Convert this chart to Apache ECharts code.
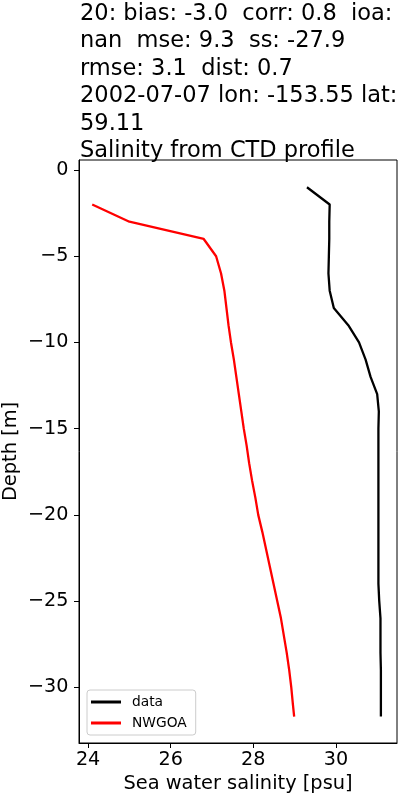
<!DOCTYPE html>
<html>
<head>
<meta charset="utf-8">
<script src="https://cdn.jsdelivr.net/npm/echarts@6/dist/echarts.min.js"></script>
<style>
html,body{margin:0;padding:0;background:#fff;}
#chart{width:400px;height:800px;}
</style>
</head>
<body>
<div id="chart"></div>
<script>
// observed CTD profile ("data")
const dataDepth = [-1, -2, -3, -4, -5, -6, -7, -8, -9, -10, -11, -12, -13, -14, -15, -16, -17, -18, -19, -20, -21, -22, -23, -24, -25, -26, -27, -28, -29, -30, -31, -31.7];
const dataSalinity = [29.3, 29.85, 29.84, 29.84, 29.83, 29.82, 29.85, 29.95, 30.3, 30.56, 30.72, 30.84, 31.0, 31.04, 31.03, 31.03, 31.03, 31.03, 31.03, 31.03, 31.03, 31.03, 31.03, 31.03, 31.05, 31.08, 31.08, 31.08, 31.09, 31.09, 31.09, 31.09];
// model profile ("NWGOA")
const modelDepth = [-2, -3, -4, -5, -6, -7, -8, -9, -10, -11, -12, -13, -14, -15, -16, -17, -18, -19, -20, -21, -22, -23, -24, -25, -26, -27, -28, -29, -30, -31, -31.7];
const modelSalinity = [24.1, 25.0, 26.8, 27.1, 27.22, 27.30, 27.35, 27.40, 27.46, 27.53, 27.59, 27.65, 27.71, 27.77, 27.84, 27.90, 27.97, 28.05, 28.12, 28.22, 28.31, 28.40, 28.49, 28.58, 28.67, 28.74, 28.81, 28.87, 28.92, 28.96, 28.99];
// axis tick labels
const xTicks = [24, 26, 28, 30];
const yTicks = [0, -5, -10, -15, -20, -25, -30];
const titleLines = [
  '20: bias: -3.0  corr: 0.8  ioa:',
  'nan  mse: 9.3  ss: -27.9',
  'rmse: 3.1  dist: 0.7',
  '2002-07-07 lon: -153.55 lat:',
  '59.11',
  'Salinity from CTD profile'
];

const FONT = 'DejaVu Sans';
const minus = v => String(v).replace('-', '\u2212');
const pairs = (xs, ys) => xs.map((x, i) => [x, ys[i]]);

const chart = echarts.init(document.getElementById('chart'), null, {renderer: 'canvas'});
chart.setOption({
  animation: false,
  backgroundColor: '#fff',
  title: {
    text: titleLines.join('\n'),
    left: 80,
    top: 0,
    padding: 0,
    textStyle: {fontFamily: FONT, fontSize: 22.5, fontWeight: 'normal', color: '#000', lineHeight: 27.5}
  },
  grid: {
    left: 79, right: 3, top: 160, bottom: 57,
    show: true, borderColor: '#000', borderWidth: 1, backgroundColor: 'transparent',
    containLabel: false,
    outerBoundsMode: 'none'
  },
  legend: {
    orient: 'vertical',
    left: 87, top: 690,
    padding: [4, 9, 4, 4],
    backgroundColor: '#fff',
    borderColor: '#cccccc', borderWidth: 1, borderRadius: 3,
    itemWidth: 30, itemHeight: 3, itemGap: 5,
    icon: 'rect',
    textStyle: {fontFamily: FONT, fontSize: 13.8, color: '#000', lineHeight: 16, padding: [0, 0, 0, 6]},
    data: ['data', 'NWGOA']
  },
  xAxis: {
    type: 'value',
    min: 23.78, max: 31.48,
    name: 'Sea water salinity [psu]',
    nameLocation: 'middle',
    nameGap: 31,
    nameMoveOverlap: false,
    nameTextStyle: {fontFamily: FONT, fontSize: 19.4, color: '#000'},
    axisLine: {show: true, onZero: false, lineStyle: {color: '#000', width: 1}},
    axisTick: {show: true, inside: false, length: 5, lineStyle: {color: '#000'}, customValues: xTicks},
    axisLabel: {fontFamily: FONT, fontSize: 19.2, color: '#000', margin: 8, customValues: xTicks, formatter: v => minus(v)},
    splitLine: {show: false}
  },
  yAxis: {
    type: 'value',
    min: -33.23, max: 0.58,
    name: 'Depth [m]',
    nameLocation: 'middle',
    nameGap: 59,
    nameMoveOverlap: false,
    nameTextStyle: {fontFamily: FONT, fontSize: 19.4, color: '#000'},
    axisLine: {show: true, onZero: false, lineStyle: {color: '#000', width: 1}},
    axisTick: {show: true, inside: false, length: 5, lineStyle: {color: '#000'}, customValues: yTicks},
    axisLabel: {fontFamily: FONT, fontSize: 19.2, color: '#000', margin: 10.5, customValues: yTicks, formatter: v => minus(v)},
    splitLine: {show: false}
  },
  series: [
    {
      name: 'data', type: 'line',
      data: pairs(dataSalinity, dataDepth),
      showSymbol: false, symbol: 'none',
      lineStyle: {color: '#000', width: 2.3},
      itemStyle: {color: '#000'},
      z: 3
    },
    {
      name: 'NWGOA', type: 'line',
      data: pairs(modelSalinity, modelDepth),
      showSymbol: false, symbol: 'none',
      lineStyle: {color: '#ff0000', width: 2.3},
      itemStyle: {color: '#ff0000'},
      z: 2
    }
  ]
});
</script>
</body>
</html>
